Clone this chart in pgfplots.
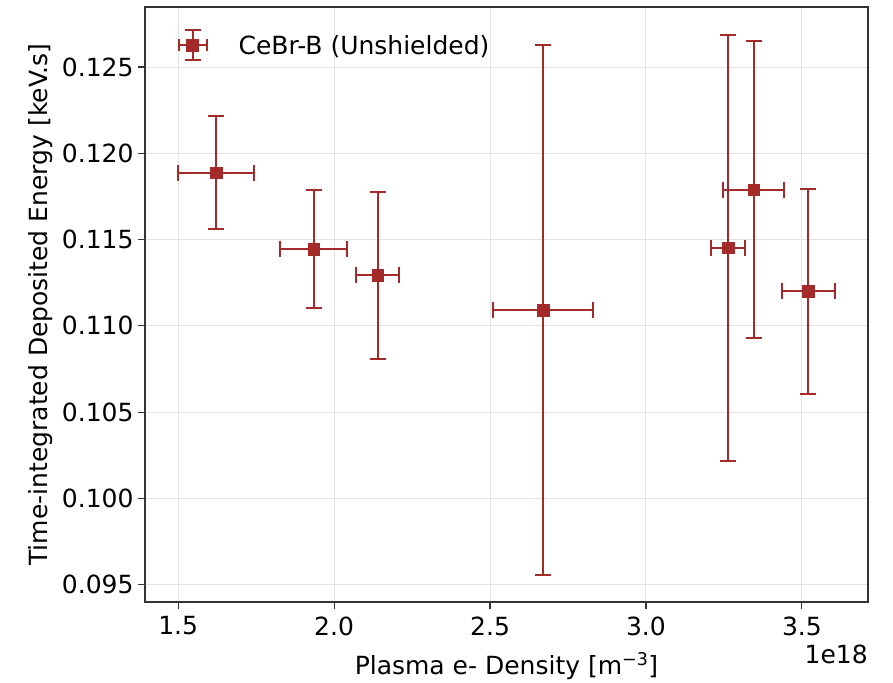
\documentclass[border=0pt]{standalone}
\usepackage{fontspec}
\setmainfont{DejaVu Sans}
\usepackage{pgfplots}
\pgfplotsset{compat=1.18}
\usepackage{pgfplotstable}
\definecolor{ebar}{HTML}{A52A2A}
\definecolor{gridc}{HTML}{E3E3E3}
\definecolor{spine}{HTML}{333333}
\pgfplotstableread{
x      y        ex      ey
1.621  0.11888  0.1218  0.00327
1.934  0.11444  0.1080  0.00343
2.140  0.11293  0.0695  0.00485
2.670  0.11091  0.1590  0.01535
3.263  0.11452  0.0556  0.01233
3.345  0.11790  0.0978  0.00863
3.521  0.11200  0.0855  0.00593
}\datatab
\newcommand{\bigf}{\fontsize{25bp}{30bp}\selectfont}
\begin{document}
\begin{tikzpicture}
\path[use as bounding box] (-145bp,-81bp) rectangle (748bp,602bp);
\begin{axis}[
  scale only axis, width=723bp, height=595bp,
  at={(0,0)}, anchor=south west,
  xmin=1.3936, xmax=3.712, ymin=0.0940, ymax=0.12848,
  xtick={1.5,2.0,2.5,3.0,3.5},
  ytick={0.095,0.100,0.105,0.110,0.115,0.120,0.125},
  scaled ticks=false,
  grid=major, major grid style={gridc, line width=1bp},
  axis line style={line width=1.2bp, spine},
  tick align=outside, tick pos=left, major tick length=7bp,
  tick style={line width=1.2bp, spine},
  /pgf/number format/assume math mode=true,
  xticklabel style={font=\bigf, yshift=-4bp, /pgf/number format/fixed, /pgf/number format/fixed zerofill, /pgf/number format/precision=1},
  yticklabel style={font=\bigf, xshift=-1bp, /pgf/number format/fixed, /pgf/number format/fixed zerofill, /pgf/number format/precision=3},
  xlabel={Plasma e- Density [m\textsuperscript{−3}]},
  ylabel={Time-integrated Deposited Energy [keV.s]},
  xlabel style={font=\bigf, at={(axis description cs:0.5,-0.108)}, anchor=center},
  ylabel style={font=\bigf, at={(axis description cs:-0.145,0.5)}, anchor=center},
  legend style={draw=none, fill=none, font=\bigf, at={(axis description cs:0.02,0.966)}, anchor=north west},
  legend cell align=left,
  legend image code/.code={
    \path[draw=none, fill=none] (0,0) -- (74bp,0);
    \draw[ebar, line width=2bp] (16bp,0)--(44bp,0) (30bp,-15bp)--(30bp,15bp);
    \draw[ebar, line width=2bp] (16bp,-6bp)--(16bp,6bp) (44bp,-6bp)--(44bp,6bp) (22bp,-15bp)--(38bp,-15bp) (22bp,15bp)--(38bp,15bp);
    \fill[ebar] (24bp,-6bp) rectangle (36bp,6bp);
  },
]
\addplot[ebar, only marks, mark=square*, mark size=5.8bp,
  error bars/.cd, x dir=both, x explicit, y dir=both, y explicit,
  error bar style={line width=2bp, ebar},
  error mark options={rotate=90, line width=2bp, mark size=8bp, ebar}]
  table[x=x, y=y, x error=ex, y error=ey] {\datatab};
\addlegendentry{CeBr-B (Unshielded)}
\end{axis}
\node[anchor=north east, font=\bigf, inner sep=0pt] at (723bp,-43bp) {1e18};
\end{tikzpicture}
\end{document}
